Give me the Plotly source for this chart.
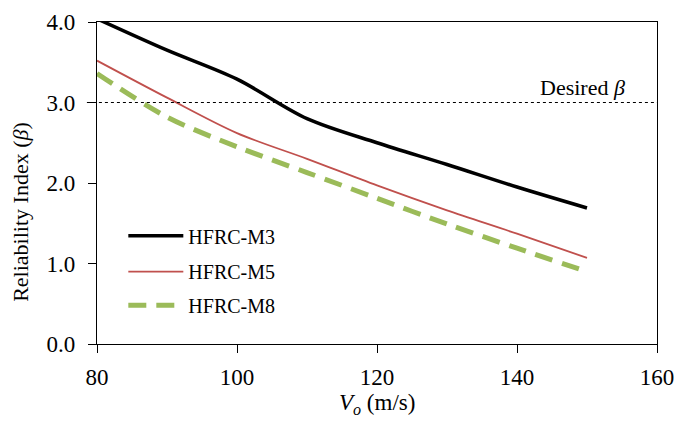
import plotly.graph_objects as go

velocity = [80, 90, 100, 110, 120, 130, 140, 150]
beta_m3 = [4.04, 3.65, 3.29, 2.80, 2.50, 2.23, 1.95, 1.69]
beta_m5 = [3.52, 3.06, 2.62, 2.30, 1.97, 1.66, 1.37, 1.07]
beta_m8 = [3.36, 2.82, 2.45, 2.13, 1.81, 1.49, 1.19, 0.90]
desired_beta = 3.0

FONT = "Liberation Serif, Times New Roman, serif"

fig = go.Figure()
fig.add_trace(go.Scatter(x=velocity, y=beta_m3, name="HFRC-M3", mode="lines", legend="legend",
                         line=dict(color="black", width=3.5, shape="spline", smoothing=0.9)))
fig.add_trace(go.Scatter(x=velocity, y=beta_m5, name="HFRC-M5", mode="lines", legend="legend2",
                         line=dict(color="#C0504D", width=1.8, shape="spline", smoothing=0.9)))
fig.add_trace(go.Scatter(x=velocity, y=beta_m8, name="HFRC-M8", mode="lines", legend="legend3",
                         line=dict(color="#9BBB59", width=5, dash="18px,10px", shape="spline", smoothing=0.9)))

fig.add_shape(type="line", xref="paper", yref="y", x0=-0.018, x1=1, y0=desired_beta, y1=desired_beta,
              line=dict(color="black", width=1, dash="dot"))
fig.add_annotation(x=0.946, xref="paper", y=desired_beta, yref="y", yshift=1,
                   text="Desired <i>β</i>", showarrow=False, xanchor="right", yanchor="bottom",
                   font=dict(family=FONT, size=22, color="black"))

# axis titles as annotations so they sit where the reference has them
fig.add_annotation(x=-0.136, xref="paper", y=0.41, yref="paper", textangle=-90,
                   text="Reliability Index (<i>β</i>)", showarrow=False, xanchor="center", yanchor="middle",
                   font=dict(family=FONT, size=22, color="black"))
fig.add_annotation(x=0.5, xref="paper", y=-0.185, yref="paper",
                   text="<i>V<sub>o</sub></i> (m/s)", showarrow=False, xanchor="center", yanchor="middle",
                   font=dict(family=FONT, size=23, color="black"))

axis_common = dict(showgrid=False, zeroline=False, showline=True, linecolor="black", linewidth=1.2,
                   mirror=True, ticks="outside", ticklen=8, tickcolor="black", ticklabeloverflow="allow",
                   tickfont=dict(family=FONT, size=23, color="black"))
fig.update_xaxes(range=[80, 160], dtick=20, ticklabelstandoff=4, **axis_common)
fig.update_yaxes(range=[0, 4], dtick=1, tickformat=".1f", ticklabelstandoff=8, **axis_common)

leg = dict(x=0.047, xanchor="left", yanchor="middle", bgcolor="rgba(0,0,0,0)",
           font=dict(family=FONT, size=20, color="black"), itemwidth=55)
fig.update_layout(
    width=685, height=424,
    margin=dict(l=97, r=28, t=10, b=80),
    plot_bgcolor="white", paper_bgcolor="white",
    showlegend=True,
    legend=dict(y=0.336, **leg),
    legend2=dict(y=0.225, **leg),
    legend3=dict(y=0.12, **leg),
)

fig.write_html("out.html", config={"displayModeBar": False},
               post_script="document.body.style.margin='0';")
